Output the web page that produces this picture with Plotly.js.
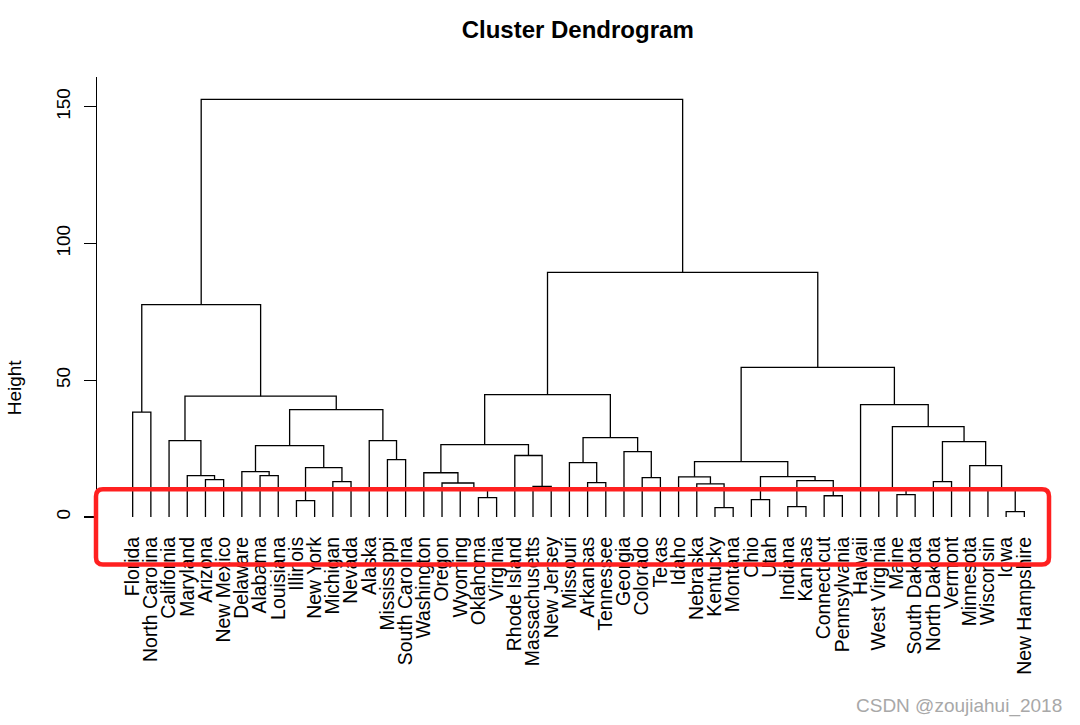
<!DOCTYPE html>
<html>
<head>
<meta charset="utf-8">
<script src="https://cdn.plot.ly/plotly-3.0.1.min.js"></script>
<style>html,body{margin:0;padding:0;background:#fff;}#chart{width:1080px;height:725px;}</style>
</head>
<body>
<div id="chart"></div>
<script>
// Leaf labels in dendrogram order
const leafLabels = ["Florida","North Carolina","California","Maryland","Arizona","New Mexico",
  "Delaware","Alabama","Louisiana","Illinois","New York","Michigan","Nevada","Alaska",
  "Mississippi","South Carolina","Washington","Oregon","Wyoming","Oklahoma","Virginia",
  "Rhode Island","Massachusetts","New Jersey","Missouri","Arkansas","Tennessee","Georgia",
  "Colorado","Texas","Idaho","Nebraska","Kentucky","Montana","Ohio","Utah","Indiana","Kansas",
  "Connecticut","Pennsylvania","Hawaii","West Virginia","Maine","South Dakota","North Dakota",
  "Vermont","Minnesota","Wisconsin","Iowa","New Hampshire"];

// Merge table (R hclust style): negative = leaf number, positive = earlier merge number
const mergeA = [-49,-33,-37,-10,-35,-20,-39,-43,-42,-48,-19,-23,-32,-18,-26,-12,-45,-5,3,-29,
  5,-31,-8,-4,-17,-7,4,-47,-25,22,-15,-22,-28,25,26,17,-3,-14,29,9,-1,35,-41,37,34,30,41,45,47];
const mergeB = [-50,-34,-38,-11,-36,-21,-40,-44,8,1,6,-24,2,11,-27,-13,-46,-6,7,-30,
  19,13,-9,18,14,23,16,10,15,21,-16,12,20,32,27,28,24,31,33,36,-2,38,40,42,39,43,44,46,48];
const mergeHeight = [2.0,3.45,3.8,6.0,6.35,7.1,7.8,8.2,10.0,10.2,10.6,11.2,12.15,12.45,12.6,12.95,12.95,13.7,13.3,14.4,
  14.8,14.7,15.15,15.15,16.2,16.6,18.1,18.8,19.9,20.3,21.0,22.5,23.9,26.5,26.1,27.6,27.95,27.95,29.05,33.1,
  38.4,39.3,41.1,44.2,44.8,54.7,77.7,89.5,152.7];

const yTickVals = [0, 50, 100, 150];

// Build dendrogram segments from the merge table
const nodeX = [], nodeH = [];
function childPos(c) {
  if (c < 0) return [-c, 0];
  return [nodeX[c - 1], nodeH[c - 1]];
}
const segX = [], segY = [];
for (let k = 0; k < mergeA.length; k++) {
  const [xa, ya] = childPos(mergeA[k]);
  const [xb, yb] = childPos(mergeB[k]);
  const h = mergeHeight[k];
  segX.push(xa, xa, xb, xb, null);
  segY.push(ya, h, h, yb, null);
  nodeX.push((xa + xb) / 2);
  nodeH.push(h);
}

const W = 1080, H = 725;
const M = {l: 97, r: 20, t: 77, b: 197.4};
const pw = W - M.l - M.r, ph = H - M.t - M.b;
const px = v => (v - M.l) / pw;
const py = v => (H - M.b - v) / ph;

// rounded red highlight box (pixel geometry)
const bx0 = px(96), bx1 = px(1049), byT = py(489), byB = py(564);
const rx = 7 / pw, ry = 7 / ph;
const boxPath = `M ${bx0+rx},${byT} L ${bx1-rx},${byT} Q ${bx1},${byT} ${bx1},${byT-ry} ` +
  `L ${bx1},${byB+ry} Q ${bx1},${byB} ${bx1-rx},${byB} L ${bx0+rx},${byB} Q ${bx0},${byB} ${bx0},${byB+ry} ` +
  `L ${bx0},${byT-ry} Q ${bx0},${byT} ${bx0+rx},${byT} Z`;

const FONT = "Liberation Sans, Arial, sans-serif";

const trace = {
  x: segX, y: segY, type: 'scatter', mode: 'lines',
  line: {color: '#000', width: 1.3}, hoverinfo: 'skip', connectgaps: false, showlegend: false
};

const layout = {
  width: W, height: H, margin: M,
  paper_bgcolor: '#fff', plot_bgcolor: '#fff',
  font: {family: FONT, color: '#000', size: 19},
  title: {text: 'Cluster Dendrogram', x: 577.7 / W, xref: 'container', xanchor: 'center',
          y: 1 - 29.5 / H, yref: 'container', yanchor: 'middle',
          font: {family: FONT, size: 24, weight: 'bold', color: '#000'}},
  xaxis: {range: [-0.96, 51.96], tickmode: 'array',
          tickvals: leafLabels.map((_, i) => i + 1), ticktext: leafLabels,
          tickangle: -90, showgrid: false, zeroline: false, showline: false,
          ticks: '', ticklabelstandoff: 4,
          tickfont: {family: FONT, size: 19.4, color: '#000'}, fixedrange: true},
  yaxis: {range: [-4, 160.9], tickmode: 'array', tickvals: yTickVals, ticktext: yTickVals.map(String),
          tickangle: -90, ticks: 'outside', ticklen: 12, tickwidth: 1.2, tickcolor: '#000',
          ticklabelstandoff: 6,
          showline: true, linewidth: 1.2, linecolor: '#000', showgrid: false, zeroline: false,
          tickfont: {family: FONT, size: 19, color: '#000'}, fixedrange: true},
  shapes: [{type: 'path', xref: 'paper', yref: 'paper', path: boxPath, layer: 'above',
            line: {color: 'rgb(255,32,32)', width: 4.5}, fillcolor: 'rgba(0,0,0,0)'}],
  annotations: [
    {text: 'Height', xref: 'paper', yref: 'paper', x: px(14), y: py(387), textangle: -90,
     showarrow: false, xanchor: 'center', yanchor: 'middle', font: {family: FONT, size: 19, color: '#000'}},
    {text: 'CSDN @zoujiahui_2018', xref: 'paper', yref: 'paper', x: px(1064), y: py(705),
     showarrow: false, xanchor: 'right', yanchor: 'middle', font: {family: FONT, size: 19, color: '#a8a8a8'}}
  ]
};

Plotly.newPlot('chart', [trace], layout, {displayModeBar: false, staticPlot: true});
</script>
</body>
</html>
